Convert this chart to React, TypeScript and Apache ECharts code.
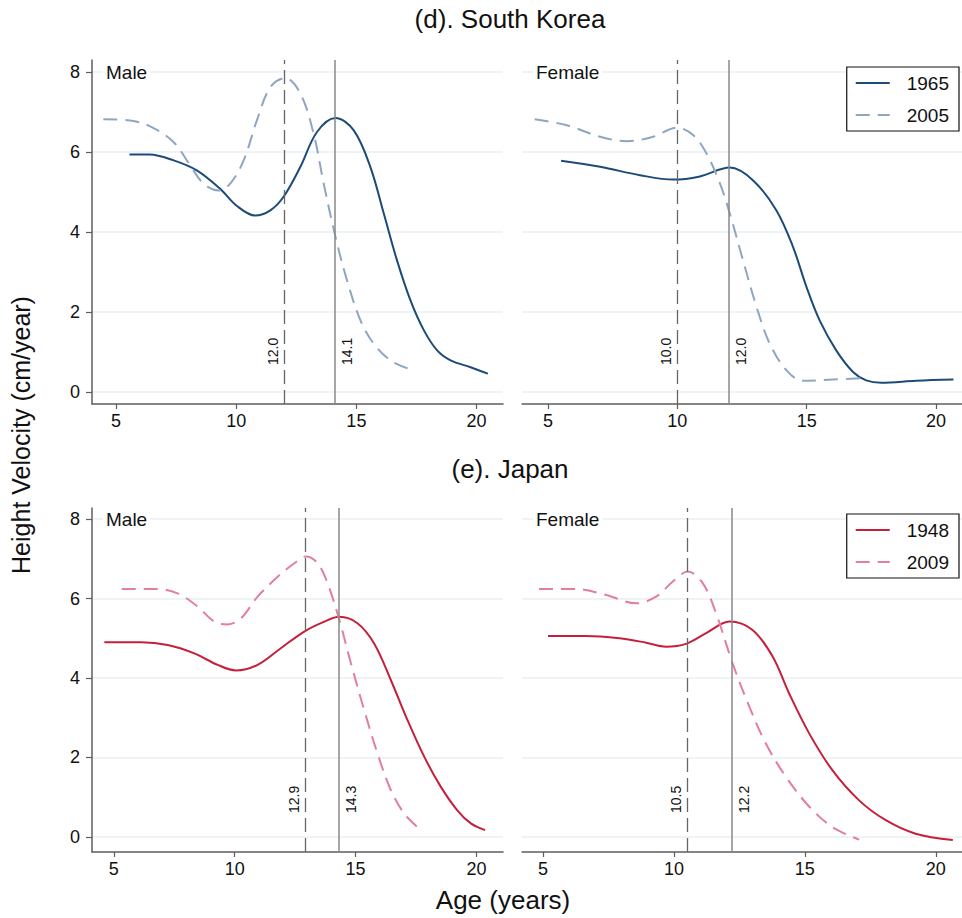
import React, { useEffect, useRef } from "react";
import * as echarts from "echarts";

const FONT = '"Liberation Sans", Arial, Helvetica, sans-serif';

// tick values
const ageTicks = [5, 10, 15, 20];
const velTicks = [0, 2, 4, 6, 8];

// (d) South Korea
const krMale1965 = [
  [5.56, 5.94], [6.4, 5.94], [7.4, 5.79], [8.36, 5.54], [9.33, 5.08], [10.03, 4.65],
  [10.79, 4.41], [11.42, 4.54], [11.97, 4.88], [12.67, 5.63], [13.36, 6.5], [14.13, 6.85],
  [14.89, 6.54], [15.58, 5.63], [16.14, 4.46], [16.69, 3.29], [17.25, 2.29], [17.81, 1.54],
  [18.36, 1.04], [18.92, 0.79], [19.75, 0.62], [20.47, 0.46],
];
const krMale2005 = [
  [4.47, 6.82], [5.58, 6.79], [6.42, 6.64], [7.39, 6.25], [8.08, 5.67], [8.64, 5.21],
  [9.26, 5.04], [9.75, 5.21], [10.31, 5.79], [10.86, 6.79], [11.42, 7.62], [12.04, 7.85],
  [12.67, 7.46], [13.22, 6.46], [13.64, 5.21], [14.13, 3.88], [14.61, 2.79], [15.17, 1.79],
  [15.72, 1.21], [16.42, 0.79], [17.18, 0.58],
];
const krFemale1965 = [
  [5.51, 5.78], [7.02, 5.63], [8.56, 5.42], [9.85, 5.31], [10.87, 5.39], [12.03, 5.61],
  [12.93, 5.29], [13.83, 4.54], [14.47, 3.63], [14.99, 2.63], [15.5, 1.79], [16.14, 1.04],
  [16.79, 0.5], [17.3, 0.29], [17.88, 0.23], [19.23, 0.28], [20.67, 0.31],
];
const krFemale2005 = [
  [4.49, 6.82], [5.73, 6.67], [7.02, 6.38], [8.05, 6.27], [9.07, 6.38], [9.97, 6.61],
  [10.62, 6.42], [11.13, 5.96], [11.65, 5.21], [12.03, 4.46], [12.54, 3.29], [13.06, 2.13],
  [13.57, 1.21], [14.22, 0.54], [14.86, 0.28], [16.0, 0.31], [17.17, 0.35],
];
const krMalePeaks = [12.0, 14.1]; // [recent cohort, early cohort]
const krFemalePeaks = [10.0, 12.0];

// (e) Japan
const jpMale1948 = [
  [4.61, 4.9], [6.13, 4.9], [7.23, 4.83], [8.33, 4.62], [9.3, 4.33], [10.06, 4.19],
  [10.95, 4.33], [11.91, 4.75], [12.88, 5.17], [13.71, 5.42], [14.33, 5.54], [15.08, 5.38],
  [15.77, 4.87], [16.46, 3.95], [17.15, 2.94], [17.84, 2.02], [18.53, 1.26], [19.21, 0.67],
  [19.77, 0.34], [20.36, 0.17],
];
const jpMale2009 = [
  [5.33, 6.24], [6.82, 6.24], [7.64, 6.13], [8.47, 5.8], [9.16, 5.42], [9.71, 5.35],
  [10.26, 5.5], [10.95, 6.05], [11.78, 6.55], [12.47, 6.89], [12.95, 7.06], [13.43, 6.89],
  [13.84, 6.39], [14.33, 5.46], [14.81, 4.37], [15.36, 3.19], [15.91, 2.1], [16.46, 1.18],
  [17.01, 0.59], [17.56, 0.25],
];
const jpFemale1948 = [
  [5.19, 5.06], [6.65, 5.06], [7.92, 5.0], [8.94, 4.89], [9.7, 4.79], [10.46, 4.86],
  [11.23, 5.13], [12.12, 5.42], [13.0, 5.21], [13.77, 4.54], [14.4, 3.61], [15.17, 2.6],
  [16.05, 1.68], [17.07, 0.92], [18.09, 0.42], [19.23, 0.08], [20.65, -0.08],
];
const jpFemale2009 = [
  [4.85, 6.24], [6.27, 6.24], [7.41, 6.09], [8.56, 5.88], [9.32, 6.05], [9.96, 6.43],
  [10.53, 6.68], [11.1, 6.39], [11.61, 5.63], [12.24, 4.37], [12.88, 3.28], [13.51, 2.35],
  [14.28, 1.51], [15.17, 0.76], [16.05, 0.25], [17.07, -0.07],
];
const jpMalePeaks = [12.9, 14.3];
const jpFemalePeaks = [10.5, 12.2];

const KR_EARLY = "#1d4b77";
const KR_RECENT = "#8fa6c0";
const JP_EARLY = "#c51f3c";
const JP_RECENT = "#e27f99";

const panels = [
  { grid: { left: 92, top: 60, width: 411, height: 344 }, x: [4, 21.1], y: [-0.3, 8.3], showY: true,
    early: krMale1965, recent: krMale2005, names: ["1965", "2005"], colors: [KR_EARLY, KR_RECENT], peaks: krMalePeaks },
  { grid: { left: 522, top: 60, width: 440, height: 344 }, x: [4, 21], y: [-0.3, 8.3], showY: false,
    early: krFemale1965, recent: krFemale2005, names: ["1965", "2005"], colors: [KR_EARLY, KR_RECENT], peaks: krFemalePeaks },
  { grid: { left: 92, top: 508, width: 411, height: 344 }, x: [4.1, 21.1], y: [-0.38, 8.28], showY: true,
    early: jpMale1948, recent: jpMale2009, names: ["1948", "2009"], colors: [JP_EARLY, JP_RECENT], peaks: jpMalePeaks },
  { grid: { left: 522, top: 508, width: 440, height: 344 }, x: [4.2, 21], y: [-0.38, 8.28], showY: false,
    early: jpFemale1948, recent: jpFemale2009, names: ["1948", "2009"], colors: [JP_EARLY, JP_RECENT], peaks: jpFemalePeaks },
];

const AXIS_COLOR = "#5e5e5e";
const GRID_COLOR = "#e8f1f3";

function buildOption() {
  const grid: any[] = [];
  const xAxis: any[] = [];
  const yAxis: any[] = [];
  const series: any[] = [];
  panels.forEach((p, i) => {
    grid.push({ ...p.grid, containLabel: false });
    xAxis.push({
      type: "value", gridIndex: i, min: p.x[0], max: p.x[1],
      axisLine: { show: true, onZero: false, lineStyle: { color: AXIS_COLOR, width: 1.5 } },
      axisTick: { show: true, customValues: ageTicks, length: 5, lineStyle: { color: AXIS_COLOR, width: 1.2 } },
      axisLabel: { customValues: ageTicks, fontSize: 18, color: "#111", fontFamily: FONT, margin: 8 },
      splitLine: { show: false },
    });
    yAxis.push({
      type: "value", gridIndex: i, min: p.y[0], max: p.y[1],
      axisLine: { show: p.showY, onZero: false, lineStyle: { color: AXIS_COLOR, width: 1.5 } },
      axisTick: { show: p.showY, customValues: velTicks, length: 6, lineStyle: { color: AXIS_COLOR, width: 1.2 } },
      axisLabel: { show: p.showY, customValues: velTicks, fontSize: 18, color: "#111", fontFamily: FONT, margin: 12 },
      splitLine: { show: true, lineStyle: { color: GRID_COLOR, width: 1.5 } },
    });
    series.push({
      type: "line", name: p.names[0], xAxisIndex: i, yAxisIndex: i, data: p.early,
      smooth: 0.35, symbol: "none", lineStyle: { color: p.colors[0], width: 2 }, itemStyle: { color: p.colors[0] },
      z: 3,
      markLine: {
        silent: true, symbol: "none", animation: false,
        data: [
          {
            xAxis: p.peaks[0], name: p.peaks[0].toFixed(1),
            lineStyle: { color: "#666", width: 1.3, type: [14, 6] },
            label: { show: true, formatter: "{b}", position: "insideStartTop", distance: [39, 4], fontSize: 14, color: "#111", fontFamily: FONT },
          },
          {
            xAxis: p.peaks[1], name: p.peaks[1].toFixed(1),
            lineStyle: { color: "#888", width: 1.5, type: "solid" },
            label: { show: true, formatter: "{b}", position: "insideStartBottom", distance: [39, 5], fontSize: 14, color: "#111", fontFamily: FONT },
          },
        ],
      },
    });
    series.push({
      type: "line", name: p.names[1], xAxisIndex: i, yAxisIndex: i, data: p.recent,
      smooth: 0.35, symbol: "none", lineStyle: { color: p.colors[1], width: 2, type: [14, 8] }, itemStyle: { color: p.colors[1] },
      z: 3,
    });
  });

  const legendBase = {
    orient: "vertical", right: 3, itemWidth: 34, itemHeight: 14, itemGap: 12,
    padding: [6, 10, 6, 8], borderColor: "#111", borderWidth: 1.2, borderRadius: 0,
    backgroundColor: "#fff",
    itemStyle: { opacity: 0, borderWidth: 0 },
    textStyle: { fontSize: 19, color: "#111", fontFamily: FONT, padding: [0, 0, 0, 12], lineHeight: 20 },
    selectedMode: false,
  };

  const txt = (text: string, x: number, y: number, size: number, extra: any = {}) => ({
    type: "text", x, y, silent: true, z: 50, ...extra.el,
    style: { text, fontSize: size, fontFamily: FONT, fill: "#111", align: extra.align || "center", verticalAlign: "middle", ...extra.style },
  });

  return {
    animation: false,
    backgroundColor: "#fff",
    grid, xAxis, yAxis, series,
    legend: [
      { ...legendBase, top: 67, data: ["1965", "2005"] },
      { ...legendBase, top: 514, data: ["1948", "2009"] },
    ],
    graphic: [
      txt("(d). South Korea", 510, 19, 26),
      txt("(e). Japan", 510, 469, 26),
      txt("Age (years)", 503, 900, 26),
      txt("Height Velocity (cm/year)", 21, 435, 25, { el: { rotation: Math.PI / 2 } }),
      txt("Male", 103, 72, 19, { align: "left", style: { backgroundColor: "#fff", padding: [0, 3] } }),
      txt("Female", 533, 72, 19, { align: "left", style: { backgroundColor: "#fff", padding: [0, 3] } }),
      txt("Male", 103, 519, 19, { align: "left", style: { backgroundColor: "#fff", padding: [0, 3] } }),
      txt("Female", 533, 519, 19, { align: "left", style: { backgroundColor: "#fff", padding: [0, 3] } }),
    ],
  };
}

export default function App() {
  const ref = useRef<HTMLDivElement>(null);
  useEffect(() => {
    if (!ref.current) return;
    const chart = echarts.init(ref.current, null, { renderer: "svg" });
    chart.setOption(buildOption() as any);
    return () => chart.dispose();
  }, []);
  return (
    <div
      ref={ref}
      style={{ position: "fixed", left: 0, top: 0, width: 962, height: 918, background: "#fff" }}
    />
  );
}
